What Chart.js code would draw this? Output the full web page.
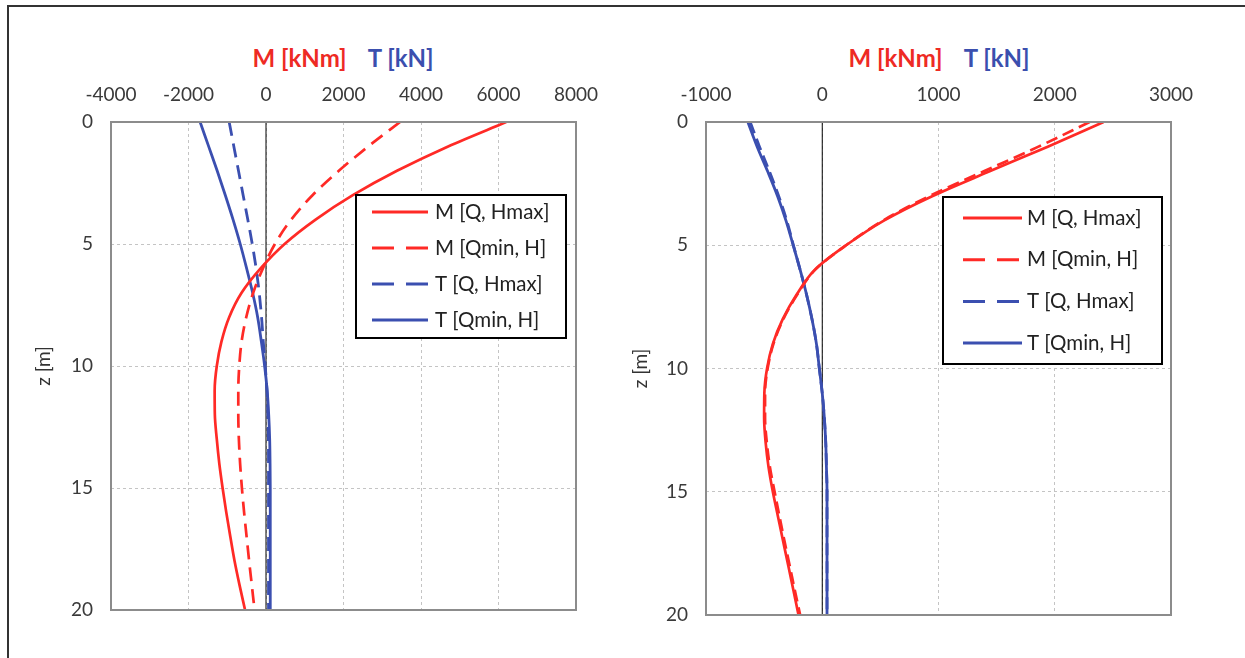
<!DOCTYPE html>
<html>
<head>
<meta charset="utf-8">
<script src="https://cdn.jsdelivr.net/npm/chart.js@4.4.0/dist/chart.umd.min.js"></script>
<style>
html,body{margin:0;overflow:hidden}
body{background:#fff;width:1245px;height:658px;position:relative;font-family:Lato,sans-serif}
#frameTop{position:absolute;left:7px;top:5px;width:1238px;height:2px;background:#333}
#frameLeft{position:absolute;left:7px;top:5px;width:2px;height:653px;background:#333}
.wrap{position:absolute;top:0;height:640px}
.ttl{position:absolute;top:43px;font-weight:bold;font-size:24px;white-space:nowrap;transform:translateX(-50%)}
.ttl .m{color:#ee2a24;margin-right:21px}
.ttl .t{color:#3b4fae}
</style>
</head>
<body>
<div id="frameTop"></div>
<div id="frameLeft"></div>
<div class="ttl" style="left:343px"><span class="m">M [kNm]</span><span class="t">T [kN]</span></div>
<div class="ttl" style="left:939px"><span class="m">M [kNm]</span><span class="t">T [kN]</span></div>
<div class="wrap" style="left:0;width:600px"><canvas id="chartL"></canvas></div>
<div class="wrap" style="left:600px;width:640px"><canvas id="chartR"></canvas></div>
<script>
// depth levels z [m]
const Z = [0,1,2,3,4,5,6,7,8,9,10,11,12,13,14,15,16,17,18,19,20];
const LABELS = ["M [Q, Hmax]", "M [Qmin, H]", "T [Q, Hmax]", "T [Qmin, H]"];

// left chart
const X_TICKS_L = [-4000,-2000,0,2000,4000,6000,8000];
const M_Q_HMAX_L = [6200,4700,3380,2240,1280,480,-140,-630,-950,-1150,-1270,-1325,-1320,-1270,-1205,-1120,-1025,-920,-810,-680,-540];
const M_QMIN_H_L = [3460,2640,1880,1200,650,230,-80,-330,-510,-630,-690,-715,-715,-700,-668,-622,-565,-500,-435,-365,-295];
const T_Q_HMAX_L = [-950,-830,-710,-590,-470,-355,-255,-175,-115,-70,-20,25,50,62,65,65,65,65,65,65,65];
const T_QMIN_H_L = [-1700,-1480,-1260,-1050,-850,-665,-500,-345,-215,-120,-35,30,70,95,105,110,110,110,110,110,110];

// right chart
const X_TICKS_R = [-1000,0,1000,2000,3000];
const M_Q_HMAX_R = [2420,1940,1440,950,530,205,-65,-220,-340,-425,-475,-498,-500,-487,-462,-425,-381,-337,-292,-248,-204];
const M_QMIN_H_R = [2300,1860,1390,925,522,205,-62,-215,-335,-420,-470,-492,-492,-477,-450,-410,-368,-325,-280,-236,-190];
const T_Q_HMAX_R = [-620,-540,-455,-375,-305,-248,-190,-135,-88,-50,-25,0,18,30,36,41,41,41,41,41,41];
const T_QMIN_H_R = [-640,-560,-470,-385,-312,-250,-190,-135,-88,-50,-25,0,18,30,36,41,41,41,41,41,41];

const Y_TICKS = [0,5,10,15,20];

const RED = "#ff2a26";
const BLUE = "#3b4fb0";
const FONT = "Lato";

function pts(vals){ return vals.map((v,i) => ({x: v, y: Z[i]})); }

//outer grey frame of the plot area
const framePlugin = {
    id: "plotFrame",
    afterDatasetsDraw(chart){
        const a = chart.chartArea, c = chart.ctx;
        c.save();
        c.strokeStyle = "#8c8c8c";
        c.lineWidth = 2;
        c.strokeRect(a.left, a.top, a.right - a.left, a.bottom - a.top);
        c.restore();
    }
};

//legend box drawn inside the plot, like the excel one
const boxLegend = {
    id: "boxLegend",
    afterDraw(chart, args, o){
        const a = chart.chartArea, c = chart.ctx;
        const x = a.left + o.dx, y = a.top + o.dy;
        c.save();
        c.fillStyle = "#fff";
        c.fillRect(x, y, o.w, o.h);
        c.strokeStyle = "#000";
        c.lineWidth = 2;
        c.strokeRect(x, y, o.w, o.h);
        c.font = o.fontSize + "px " + FONT;
        c.textBaseline = "middle";
        let row = 0;
        chart.data.datasets.forEach(ds => {
            if(!ds.label) return;
            const ly = y + o.first + row * o.row;
            c.beginPath();
            c.strokeStyle = ds.borderColor;
            c.lineWidth = 3;
            c.setLineDash(ds.borderDash && ds.borderDash.length ? o.dash : []);
            c.moveTo(x + o.lineX0, ly);
            c.lineTo(x + o.lineX1, ly);
            c.stroke();
            c.setLineDash([]);
            c.fillStyle = "#222";
            c.fillText(ds.label, x + o.textX, ly);
            row++;
        });
        c.restore();
    }
};

function makeChart(id, xTicks, series, dash, geo, legendOpts){
    const ds = [
        {label: LABELS[0], data: pts(series[0]), borderColor: RED, borderWidth: 2.7, borderDash: []},
        {label: LABELS[1], data: pts(series[1]), borderColor: RED, borderWidth: 2.7, borderDash: dash},
        {label: LABELS[2], data: pts(series[2]), borderColor: BLUE, borderWidth: 2.8, borderDash: dash},
        {label: LABELS[3], data: pts(series[3]), borderColor: BLUE, borderWidth: 2.8, borderDash: []},
        //zero line
        {label: "", data: [{x: 0, y: Z[0]}, {x: 0, y: Z[Z.length-1]}], borderColor: "#000", borderWidth: 1, order: 10}
    ].map(d => Object.assign({showLine: true, pointRadius: 0, fill: false, cubicInterpolationMode: "monotone"}, d));
    return new Chart(document.getElementById(id), {
        type: "scatter",
        data: {datasets: ds},
        options: {
            indexAxis: "y",
            responsive: true,
            maintainAspectRatio: false,
            animation: false,
            layout: {padding: {left: 0, right: geo.right, top: 82, bottom: geo.bottom}},
            plugins: {
                legend: {display: false},
                tooltip: {enabled: false},
                boxLegend: legendOpts
            },
            scales: {
                x: {
                    type: "linear",
                    position: "top",
                    min: xTicks[0],
                    max: xTicks[xTicks.length-1],
                    afterBuildTicks: s => { s.ticks = xTicks.map(v => ({value: v})); },
                    afterFit: s => { s.height = 40; s.paddingLeft = 0; s.paddingRight = 0; },
                    ticks: {color: "#3a3a3a", font: {family: FONT, size: 19}, padding: 16, maxRotation: 0, autoSkip: false,
                        callback: v => String(v)},
                    grid: {color: "#c4c4c4", drawTicks: false, lineWidth: 1},
                    border: {display: false, dash: [3, 3]}
                },
                y: {
                    type: "linear",
                    reverse: true,
                    min: Y_TICKS[0],
                    max: Y_TICKS[Y_TICKS.length-1],
                    afterBuildTicks: s => { s.ticks = Y_TICKS.map(v => ({value: v})); },
                    afterFit: s => { s.width = geo.yWidth; s.paddingTop = 0; s.paddingBottom = 0; },
                    ticks: {color: "#3a3a3a", font: {family: FONT, size: 19}, padding: 18, callback: v => String(v)},
                    grid: {color: "#c4c4c4", drawTicks: false, lineWidth: 1},
                    border: {display: false, dash: [3, 3]},
                    title: {display: true, text: "z [m]", color: "#333", font: {family: FONT, size: 19}, padding: {top: geo.titlePad, bottom: 0}}
                }
            }
        },
        plugins: [framePlugin, boxLegend]
    });
}

makeChart("chartL", X_TICKS_L, [M_Q_HMAX_L, M_QMIN_H_L, T_Q_HMAX_L, T_QMIN_H_L], [14, 8],
    {right: 24, bottom: 30, yWidth: 111, titlePad: 32},
    {dx: 245, dy: 73, w: 210, h: 143, first: 17, row: 36, lineX0: 16, lineX1: 72, textX: 79, fontSize: 20.5, dash: [22, 12]});

makeChart("chartR", X_TICKS_R, [M_Q_HMAX_R, M_QMIN_H_R, T_Q_HMAX_R, T_QMIN_H_R], [12, 6],
    {right: 69, bottom: 25, yWidth: 106, titlePad: 29},
    {dx: 237, dy: 75, w: 219, h: 167, first: 21, row: 41.7, lineX0: 20, lineX1: 79, textX: 84, fontSize: 20.5, dash: [22, 12]});
</script>
</body>
</html>
